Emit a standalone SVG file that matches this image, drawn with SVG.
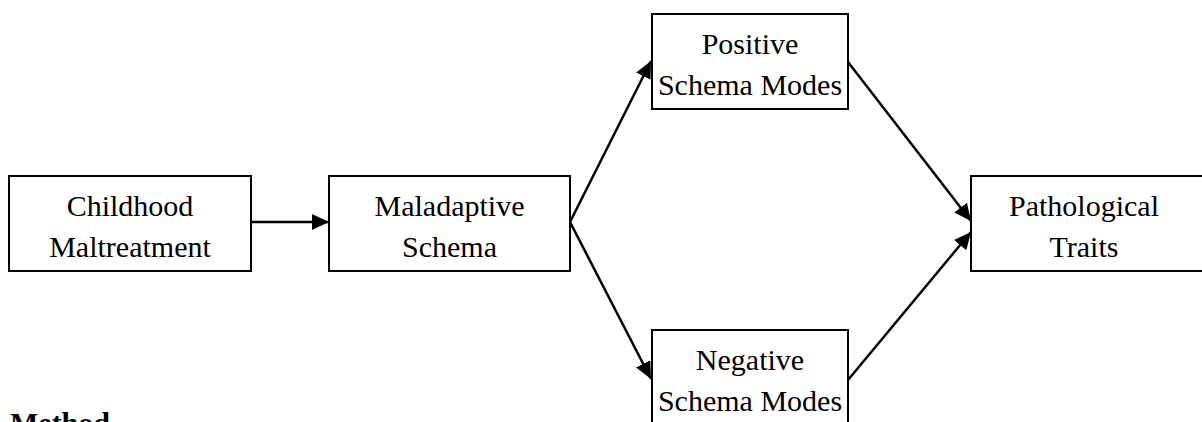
<svg xmlns="http://www.w3.org/2000/svg" width="1202" height="422" viewBox="0 0 1202 422">
<style>
.box{fill:#fff;stroke:#000;stroke-width:2}
.t{font-family:"Liberation Serif","Times New Roman",serif;font-size:30px;fill:#000;text-anchor:middle}
.c{stroke:#000;stroke-width:2.5;fill:none}
.h{font-family:"Liberation Serif","Times New Roman",serif;font-size:30px;font-weight:bold;fill:#000}
</style>
<defs>
<marker id="ah" markerUnits="userSpaceOnUse" markerWidth="18" markerHeight="16" refX="17" refY="8" orient="auto">
<path d="M0,0 L17,8 L0,16 Z" fill="#000"/>
</marker>
</defs>
<rect width="1202" height="422" fill="#fff"/>
<g id="connectors">
<line class="c" x1="251" y1="222" x2="329" y2="222" marker-end="url(#ah)"/>
<line class="c" x1="570" y1="222" x2="651" y2="61" marker-end="url(#ah)"/>
<line class="c" x1="570" y1="222" x2="651" y2="379" marker-end="url(#ah)"/>
<line class="c" x1="848" y1="62" x2="971" y2="221" marker-end="url(#ah)"/>
<line class="c" x1="848" y1="380" x2="971" y2="232" marker-end="url(#ah)"/>
</g>
<g id="childhood">
<rect class="box" x="9" y="176" width="242" height="95"/>
<text class="t" x="130" y="216">Childhood</text>
<text class="t" x="130" y="257">Maltreatment</text>
</g>
<g id="maladaptive">
<rect class="box" x="329" y="176" width="241" height="95"/>
<text class="t" x="449.5" y="216">Maladaptive</text>
<text class="t" x="449.5" y="257">Schema</text>
</g>
<g id="positive">
<rect class="box" x="652" y="14" width="196" height="95"/>
<text class="t" x="750" y="54">Positive</text>
<text class="t" x="750" y="95">Schema Modes</text>
</g>
<g id="negative">
<rect class="box" x="652" y="330" width="196" height="100"/>
<text class="t" x="750" y="370">Negative</text>
<text class="t" x="750" y="411">Schema Modes</text>
</g>
<g id="pathological">
<rect class="box" x="971" y="176" width="240" height="95"/>
<text class="t" x="1084" y="216">Pathological</text>
<text class="t" x="1084" y="257">Traits</text>
</g>
<text class="h" x="10" y="433">Method</text>
</svg>
